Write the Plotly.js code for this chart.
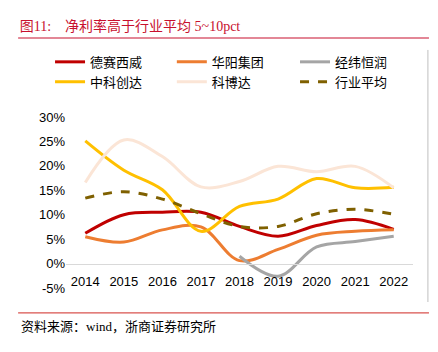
<!DOCTYPE html>
<html>
<head>
<meta charset="utf-8">
<script src="https://cdn.plot.ly/plotly-3.0.1.min.js"></script>
<style>html,body{margin:0;padding:0;background:#fff;}#chart{width:438px;height:352px;}</style>
</head>
<body>
<div id="chart"></div>
<script>
const years = ['2014','2015','2016','2017','2018','2019','2020','2021','2022'];
const desay = [6.2, 10.0, 10.5, 10.5, 7.6, 5.6, 7.8, 9.0, 7.0];
const huayang = [5.5, 4.4, 6.9, 7.5, 0.6, 2.9, 5.8, 6.6, 6.9];
const jingwei = [null, null, null, null, 1.5, -2.6, 3.4, 4.5, 5.6];
const zhongke = [25.1, 19.1, 15.1, 6.6, 11.7, 13.2, 17.4, 15.5, 15.6];
const kebo = [16.6, 25.3, 21.9, 15.7, 16.8, 19.9, 18.8, 19.9, 15.5];
const avg = [13.4, 14.7, 13.2, 10.2, 7.6, 7.6, 10.2, 11.1, 10.1];
const yTicks = [-5, 0, 5, 10, 15, 20, 25, 30];
const yTickText = ['-5%', '0%', '5%', '10%', '15%', '20%', '25%', '30%'];

const mk = (name, y, color, legend, dash) => ({
  type: 'scatter', mode: 'lines', name: name, x: years, y: y, legend: legend,
  line: {color: color, width: 3, shape: 'spline', smoothing: 1, dash: dash || 'solid'},
  connectgaps: false, hoverinfo: 'skip'
});

const data = [
  mk('德赛西威', desay, '#C00000', 'legend'),
  mk('华阳集团', huayang, '#ED7D31', 'legend2'),
  mk('经纬恒润', jingwei, '#A5A5A5', 'legend3'),
  mk('中科创达', zhongke, '#FFC000', 'legend'),
  mk('科博达', kebo, '#FBE5D6', 'legend2'),
  mk('行业平均', avg, '#7F6000', 'legend3', 'dash')
];

const cjk = '"Liberation Serif", "Noto Sans CJK SC", serif';
const legendBase = (x) => ({
  orientation: 'v', x: x, y: 1.41, xanchor: 'left', yanchor: 'top',
  font: {family: cjk, size: 13, color: '#000'},
  bgcolor: 'rgba(0,0,0,0)', tracegroupgap: 0, itemwidth: 30
});
const layout = {
  width: 438, height: 352,
  margin: {l: 66, r: 25, t: 117, b: 64},
  paper_bgcolor: '#fff', plot_bgcolor: '#fff',
  showlegend: true,
  legend: legendBase(-0.046),
  legend2: legendBase(0.305),
  legend3: legendBase(0.66),
  xaxis: {
    type: 'category', range: [-0.5, 8.5], anchor: 'free', position: 5/35,
    showline: true, linecolor: '#D9D9D9', linewidth: 1.5,
    showgrid: false, zeroline: false, ticks: '', ticklabelstandoff: 5,
    tickfont: {family: 'Liberation Sans, Arial, sans-serif', size: 13, color: '#000'}
  },
  yaxis: {
    range: [-5, 30], tickvals: yTicks, ticktext: yTickText,
    showgrid: false, zeroline: false, showline: false, ticks: '',
    tickfont: {family: 'Liberation Sans, Arial, sans-serif', size: 13, color: '#000'}
  },
  title: {
    text: '图11:&nbsp;&nbsp;&nbsp;&nbsp;净利率高于行业平均 5~10pct',
    font: {family: cjk, size: 14, color: '#C8102E'},
    xref: 'container', yref: 'container', x: 0.045, y: 0.925, xanchor: 'left', yanchor: 'middle'
  },
  shapes: [
    {type: 'line', xref: 'paper', yref: 'paper', x0: -0.138, x1: 1.046, y0: 1.462, y1: 1.462,
     line: {color: '#C8102E', width: 1.2}},
    {type: 'line', xref: 'paper', yref: 'paper', x0: -0.138, x1: 1.046, y0: -0.146, y1: -0.146,
     line: {color: '#D9534F', width: 1.2}},
    {type: 'line', xref: 'paper', yref: 'paper', x0: 1.043, x1: 1.043, y0: 1.392, y1: -0.082,
     line: {color: '#BFBFBF', width: 1}}
  ],
  annotations: [
    {text: '资料来源：wind，浙商证券研究所', xref: 'paper', yref: 'paper', x: -0.135, y: -0.228,
     xanchor: 'left', yanchor: 'middle', showarrow: false,
     font: {family: cjk, size: 13, color: '#000'}}
  ]
};

Plotly.newPlot('chart', data, layout, {displayModeBar: false, staticPlot: true});
</script>
</body>
</html>
